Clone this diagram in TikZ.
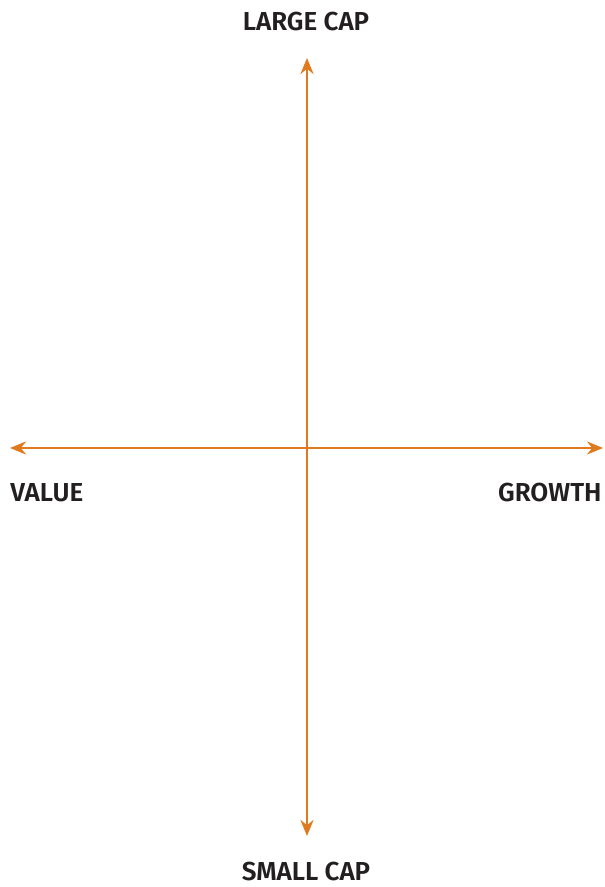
\documentclass[tikz,border=0pt]{standalone}
\usepackage{fontspec}
\setmainfont{Fira Sans}[BoldFont={Fira Sans SemiBold}]
\usetikzlibrary{arrows.meta}
\definecolor{axisorange}{HTML}{E07A1F}
\definecolor{labelgray}{HTML}{231F20}
\begin{document}
\begin{tikzpicture}[x=1pt, y=1pt, thick, axis/.style = {draw=axisorange, line width=2.8pt, {Stealth[length=16pt, width=13pt]}-{Stealth[length=16pt, width=13pt]}}, lab/.style = {text=labelgray, font=\fontsize{26}{28}\selectfont\bfseries, inner sep=0pt}] 
    \useasboundingbox (0,0) rectangle (605,887);
    % Estremi degli assi e etichette
    \coordinate (top) at (307, 829);
    \coordinate (bottom) at (307, 51);
    \coordinate (left) at (10, 439);
    \coordinate (right) at (603, 439);
    \node[lab] (large) at (306, 865) {LARGE CAP};
    \node[lab] (small) at (306, 15) {SMALL CAP};
    \node[lab, anchor=west] (value) at (10, 394) {VALUE};
    \node[lab, anchor=east] (growth) at (602, 394) {GROWTH};

    \draw[axis] (bottom) -- (top);
    \draw[axis] (left) -- (right);
\end{tikzpicture}
\end{document}
